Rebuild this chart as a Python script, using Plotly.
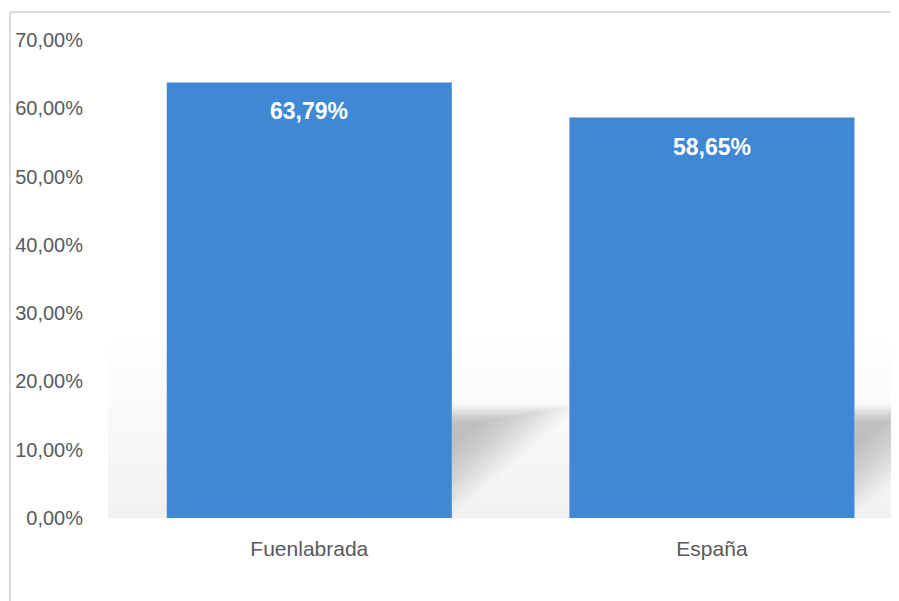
import plotly.graph_objects as go

categories = ["Fuenlabrada", "España"]
values = [63.79, 58.65]
value_labels = ["63,79%", "58,65%"]
tick_values = [0, 10, 20, 30, 40, 50, 60, 70]
tick_labels = ["0,00%", "10,00%", "20,00%", "30,00%", "40,00%", "50,00%", "60,00%", "70,00%"]

bar_color = "#3f88d3"
bar_width = 0.708
font_family = "Liberation Sans, Arial, sans-serif"

fig = go.Figure()
fig.add_trace(go.Bar(
    x=list(range(len(categories))),
    y=values,
    marker=dict(color=bar_color, line=dict(width=0)),
    width=bar_width,
    hoverinfo="skip",
))

for i, (v, lab) in enumerate(zip(values, value_labels)):
    fig.add_annotation(
        x=i, y=v, xref="x", yref="y", text="<b>" + lab + "</b>",
        showarrow=False, yshift=-29,
        font=dict(family=font_family, size=23, color="white"),
    )

# faint grey floor tint near the base (smoothly fading upward)
for k in range(14):
    fig.add_shape(type="rect", xref="paper", yref="y",
                  x0=0, x1=1, y0=-3, y1=26 - k * 2,
                  fillcolor="rgba(0,0,0,0.0045)", line=dict(width=0), layer="below")

# soft floor shadows cast to the right of each bar
half = bar_width / 2
W = 0.30
slope = 50.0
for i in range(len(categories)):
    xr = i + half
    for k in range(16):
        d = k * 0.65
        T = 16.6 - k * 0.17
        y0 = 0.5 + d
        xd = (T - y0) / slope
        if xd <= W:
            pts = [(0, y0), (xd, T), (0, T)]
        else:
            pts = [(0, y0), (W, y0 + slope * W), (W, T), (0, T)]
        path = "M " + " L ".join(f"{xr + px},{py}" for px, py in pts) + " Z"
        fig.add_shape(type="path", xref="x", yref="y", path=path,
                      fillcolor="rgba(90,90,90,0.024)",
                      line=dict(width=0), layer="below")

# outer frame lines (top and left)
fig.add_shape(type="line", xref="paper", yref="paper",
              x0=-0.1239, x1=1.0, y0=1.0586, y1=1.0586,
              line=dict(color="#cfcfcf", width=1.5))
fig.add_shape(type="line", xref="paper", yref="paper",
              x0=-0.1239, x1=-0.1239, y0=-0.18, y1=1.0586,
              line=dict(color="#cfcfcf", width=1.5))

fig.update_layout(
    width=891, height=593,
    margin=dict(l=100, r=0, t=32, b=83),
    paper_bgcolor="white",
    plot_bgcolor="white",
    showlegend=False,
    font=dict(family=font_family, size=20, color="#595959"),
    xaxis=dict(
        range=[-0.5, 1.4646],
        tickvals=list(range(len(categories))), ticktext=categories,
        showgrid=False, zeroline=False, showline=False,
        tickfont=dict(family=font_family, size=21, color="#595959"),
        ticks="outside", ticklen=12, tickcolor="rgba(0,0,0,0)",
    ),
    yaxis=dict(
        range=[0, 70],
        tickvals=tick_values, ticktext=tick_labels,
        showgrid=False, zeroline=False, showline=False,
        tickfont=dict(family=font_family, size=20, color="#595959"),
        ticks="outside", ticklen=20, tickcolor="rgba(0,0,0,0)",
    ),
)

fig.write_html("out.html")
